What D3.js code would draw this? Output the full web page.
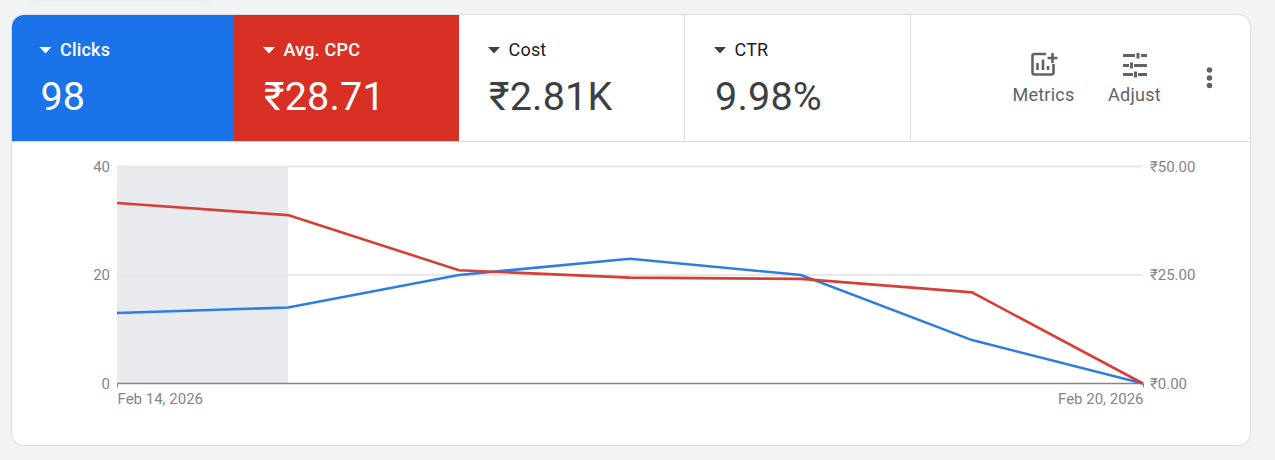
<!DOCTYPE html>
<html>
<head>
<meta charset="utf-8">
<style>
html,body{margin:0;padding:0;background:#f1f3f4;overflow:hidden}
svg{display:block;font-family:Roboto,sans-serif}
</style>
<script src="https://cdnjs.cloudflare.com/ajax/libs/d3/7.8.5/d3.min.js"></script>
</head>
<body>
<svg id="c" width="1275" height="460"></svg>
<script>
// Daily values for the week
const days = ["2026-02-14","2026-02-15","2026-02-16","2026-02-17","2026-02-18","2026-02-19","2026-02-20"];
const clicks = [13,14,20,23,20,8,0];
const avgCpc = [41.6,38.8,26.1,24.4,24.1,21.0,0];
const clickTicks = [0,20,40];
const cpcTicks = [0,25,50];
const shadedDays = ["2026-02-14","2026-02-15"];

// Scorecards across the top of the card
const cardNames = ["Clicks","Avg. CPC","Cost","CTR"];
const cardValues = ["98","₹28.71","₹2.81K","9.98%"];
const cardEdges = [12,234,459,684,910];
const cardFills = ["#1a73e8","#d93025","#fff","#fff"];
const cardInks = ["#fff","#fff","#3c4043","#3c4043"];

const parse = d3.utcParse("%Y-%m-%d");
const fmtDate = d3.utcFormat("%b %-d, %Y");
const svg = d3.select("#c");

const cardL = 12, cardR = 1250.5, cardT = 14.5, cardB = 445.5, stripB = 141;

// Faint tab remnant above the card
svg.append("rect").attr("x",30).attr("y",-8).attr("width",180).attr("height",10).attr("rx",5)
  .attr("fill","#ebedef").style("filter","blur(2px)");

// Card body
svg.append("rect").attr("x",cardL-.5).attr("y",cardT).attr("width",cardR-cardL+.5).attr("height",cardB-cardT)
  .attr("rx",12).attr("fill","#fff").attr("stroke","#dadce0");

// Scorecard fills
const strip = svg.append("g");
strip.append("path").attr("fill",cardFills[0])
  .attr("d",`M${cardEdges[0]},${stripB}V27a12,12 0 0 1 12,-12H${cardEdges[1]}V${stripB}Z`);
strip.append("rect").attr("x",cardEdges[1]).attr("y",15)
  .attr("width",cardEdges[2]-cardEdges[1]).attr("height",stripB-15).attr("fill",cardFills[1]);
strip.append("line").attr("x1",cardL).attr("x2",cardR).attr("y1",141.5).attr("y2",141.5).attr("stroke","#dadce0");
[684.5,910.5].forEach(x => strip.append("line").attr("x1",x).attr("x2",x).attr("y1",15).attr("y2",141).attr("stroke","#dadce0"));

cardNames.forEach((name,i) => {
  const g = strip.append("g").attr("transform",`translate(${cardEdges[i]},0)`);
  const offX = i === 0 ? 28 : i === 1 ? 29.5 : i === 2 ? 29.5 : 30.5;
  g.append("path").attr("d",`M${offX-.5},47h12l-6,6.500z`).attr("fill",cardInks[i]);
  g.append("text").attr("x",offX+20).attr("y",55.5).attr("font-size",18)
    .attr("letter-spacing",.2).attr("font-weight",i<2?500:400).attr("fill",i<2?cardInks[i]:"#202124").text(name);
  g.append("text").attr("x",offX+.5).attr("y",110).attr("font-size",39.5)
    .attr("letter-spacing",i===0?0:.2).attr("fill",cardInks[i]).text(cardValues[i]);
});

// Toolbar controls on the right of the strip
const tool = svg.append("g").attr("fill","none").attr("stroke","#5f6368").attr("stroke-width",2.6);
tool.append("path").attr("d","M1046,54H1034.500a2,2 0 0 0 -2,2V72.500a2,2 0 0 0 2,2H1051.500a2,2 0 0 0 2,-2V64");
tool.append("path").attr("d","M1037.500,70V63M1043,70V59.500M1048,70V66M1052.500,53V63M1047.500,58H1057.500");
tool.append("path").attr("stroke-width",3).attr("d","M1123,55.500H1135M1141,55.500H1147M1138,53V58.500M1123,65.500H1129M1134,65.500H1147M1131.500,62.500V68.500M1123,74.500H1133M1138,74.500H1147M1135.500,71.500V77.500");
svg.selectAll(".dot").data([70,78,85.500]).join("circle")
  .attr("cx",1209.500).attr("cy",d=>d).attr("r",2.8).attr("fill","#5f6368");
[["Metrics",1043.500],["Adjust",1134.500]].forEach(([t,x]) =>
  svg.append("text").attr("x",x).attr("y",101).attr("text-anchor","middle")
    .attr("font-size",18).attr("letter-spacing",.25).attr("fill","#5f6368").text(t));

// Chart scales
const x = d3.scaleUtc().domain(d3.extent(days,parse)).range([117,1143]);
const yClicks = d3.scaleLinear().domain([0,40]).range([383.5,166.5]);
const yCpc = d3.scaleLinear().domain([0,50]).range([383.5,166.5]);

// Shaded date range
const shadeX0 = x(parse(shadedDays[0])), shadeX1 = x(parse(shadedDays[1]));
svg.append("rect").attr("x",shadeX0).attr("y",yClicks(40))
  .attr("width",shadeX1-shadeX0).attr("height",yClicks(0)-yClicks(40)).attr("fill","#e8eaed");

// Gridlines with both value axes
const axisLeft = d3.axisLeft(yClicks).tickValues(clickTicks).tickSize(0).tickPadding(7);
const axisRight = d3.axisRight(yCpc).tickValues(cpcTicks).tickSize(0).tickPadding(7)
  .tickFormat(d => "₹" + d3.format(".2f")(d));
const gl = svg.append("g").attr("transform","translate(117,0)").call(axisLeft);
const gr = svg.append("g").attr("transform","translate(1143,0)").call(axisRight);
[gl,gr].forEach(g => {
  g.select(".domain").remove();
  g.selectAll("text").attr("font-family","Roboto,sans-serif").attr("font-size",15).attr("fill","#80868b");
});
svg.append("g").selectAll("line").data(clickTicks.filter(d=>d>0)).join("line")
  .attr("x1",117).attr("x2",1143).attr("y1",d=>yClicks(d)).attr("y2",d=>yClicks(d))
  .attr("stroke","#e8e8e8").attr("stroke-width",2);

// Date axis with end labels only
const axisBottom = d3.axisBottom(x).tickValues([parse(days[0]),parse(days[6])]).tickSize(4).tickPadding(6).tickFormat(fmtDate);
const gb = svg.append("g").attr("transform","translate(0,383.5)").call(axisBottom);
gb.select(".domain").attr("stroke","#80868b").attr("stroke-width",1.5).attr("d","M117,0H1143");
gb.selectAll("line").attr("stroke","#80868b");
gb.selectAll("text").attr("font-family","Roboto,sans-serif").attr("font-size",15).attr("fill","#80868b")
  .attr("text-anchor",(d,i)=>i?"end":"start");

// Series lines
const lineOf = (vals,y) => d3.line().x((d,i)=>x(parse(days[i]))).y(d=>y(d))(vals);
svg.append("path").attr("d",lineOf(clicks,yClicks)).attr("fill","none").attr("stroke","#2f7de1").attr("stroke-width",2.6);
svg.append("path").attr("d",lineOf(avgCpc,yCpc)).attr("fill","none").attr("stroke","#d63f35").attr("stroke-width",2.6);
</script>
</body>
</html>
